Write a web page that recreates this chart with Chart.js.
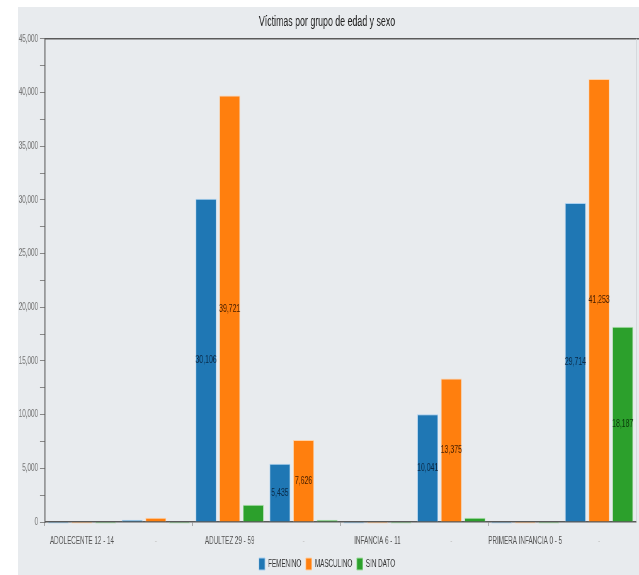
<!DOCTYPE html>
<html>
<head>
<meta charset="utf-8">
<script src="https://cdn.jsdelivr.net/npm/chart.js@4/dist/chart.umd.min.js"></script>
<style>
  html, body { margin: 0; padding: 0; background: #ffffff; }
  #wrap { position: absolute; left: 18px; top: 7px; width: 621px; height: 568px; background: #e8ebee; overflow: hidden; }
  canvas { display: block; }
</style>
</head>
<body>
<div id="wrap"><canvas id="c"></canvas></div>
<script>
const TITLE = 'Víctimas por grupo de edad y sexo';
const categories = ['ADOLECENTE 12 - 14', '-', 'ADULTEZ 29 - 59', '-', 'INFANCIA 6 - 11', '-', 'PRIMERA INFANCIA 0 - 5', '-'];
const seriesNames = ['FEMENINO', 'MASCULINO', 'SIN DATO'];
const femenino  = [-150, 200, 30106, 5435, -150, 10041, -150, 29714];
const masculino = [-150, 400, 39721, 7626, -150, 13375, -150, 41253];
const sinDato   = [-150, -150, 1600, 200, -150, 400, -150, 18187];
const yTicksMax = 45000;
const yTickStep = 2500;

// The reference is horizontally compressed: draw on a wider canvas and squeeze it with CSS.
const SQ = 0.63;
const W = 621, H = 573;
const cv = document.getElementById('c');
cv.width = Math.round(W / SQ);
cv.height = H;
cv.style.width = W + 'px';
cv.style.height = H + 'px';
const px = v => v / SQ;

const FONT = "'Liberation Sans', Arial, sans-serif";
const colors = ['#1f77b4', '#ff7f0e', '#2ca02c'];
const borders = ['#a9d0f0', '#ffd2a8', '#a8e0a8'];
const labelColors = ['#0a2a48', '#4a2000', '#0a3a0a'];
const fmt = v => v.toLocaleString('en-US');

const valueLabels = {
  id: 'valueLabels',
  afterDatasetsDraw(chart) {
    const ctx = chart.ctx;
    ctx.save();
    ctx.font = '11px ' + FONT;
    ctx.textAlign = 'center';
    ctx.textBaseline = 'middle';
    chart.data.datasets.forEach((ds, di) => {
      const meta = chart.getDatasetMeta(di);
      meta.data.forEach((bar, i) => {
        const v = ds.data[i];
        if (v > 3000) {
          ctx.fillStyle = labelColors[di];
          ctx.fillText(fmt(v), bar.x, (bar.y + bar.base) / 2);
        }
      });
    });
    ctx.restore();
  }
};

const frame = {
  id: 'frame',
  afterDraw(chart) {
    const a = chart.chartArea, ctx = chart.ctx;
    ctx.save();
    ctx.strokeStyle = '#5a5a5a';
    ctx.lineWidth = 1.5;
    ctx.beginPath();
    ctx.moveTo(a.left, a.top);
    ctx.lineTo(chart.width, a.top);
    ctx.stroke();
    ctx.strokeStyle = '#d0d4d8';
    ctx.lineWidth = 1.5;
    ctx.beginPath();
    ctx.moveTo(a.right + 1, a.top);
    ctx.lineTo(a.right + 1, a.bottom);
    ctx.stroke();
    ctx.restore();
  }
};

const datasets = [femenino, masculino, sinDato].map((d, i) => ({
  label: seriesNames[i],
  data: d,
  backgroundColor: colors[i],
  borderColor: borders[i],
  borderWidth: 1,
  barPercentage: 0.88,
  categoryPercentage: 0.96,
  clip: false
}));

new Chart(cv, {
  type: 'bar',
  data: { labels: categories, datasets },
  options: {
    responsive: false,
    animation: false,
    devicePixelRatio: 1,
    layout: { padding: { top: 6, right: px(3), left: 0, bottom: 0 } },
    plugins: {
      title: {
        display: true,
        text: TITLE,
        color: '#222',
        font: { family: FONT, size: 14, weight: 'normal' },
        padding: { top: 1, bottom: 8 }
      },
      legend: {
        position: 'bottom',
        labels: {
          boxWidth: px(6),
          boxHeight: 12,
          padding: 7,
          color: '#333',
          font: { family: FONT, size: 10 }
        }
      },
      tooltip: { enabled: false }
    },
    scales: {
      x: {
        grid: {
          display: true,
          drawOnChartArea: false,
          tickLength: 4,
          color: ctx => (ctx.index % 2 === 0 ? '#777' : 'rgba(0,0,0,0)')
        },
        border: { color: '#5a5a5a', width: 1.5 },
        ticks: {
          autoSkip: false,
          maxRotation: 0,
          padding: 9,
          color: ctx => (ctx.index % 2 === 0 ? '#555' : '#c8c8c8'),
          font: { family: FONT, size: 10 }
        },
        afterFit: s => { s.height = 29; }
      },
      y: {
        min: 0,
        max: yTicksMax,
        grid: { display: true, drawOnChartArea: false, tickLength: px(5), color: '#888' },
        border: { color: '#5a5a5a', width: 1.5 },
        ticks: {
          stepSize: yTickStep,
          padding: px(2),
          color: '#777',
          font: { family: FONT, size: 10 },
          callback: v => (v % 5000 === 0 ? fmt(v) : '')
        },
        afterFit: s => { s.width = px(27); }
      }
    }
  },
  plugins: [valueLabels, frame]
});
</script>
</body>
</html>
